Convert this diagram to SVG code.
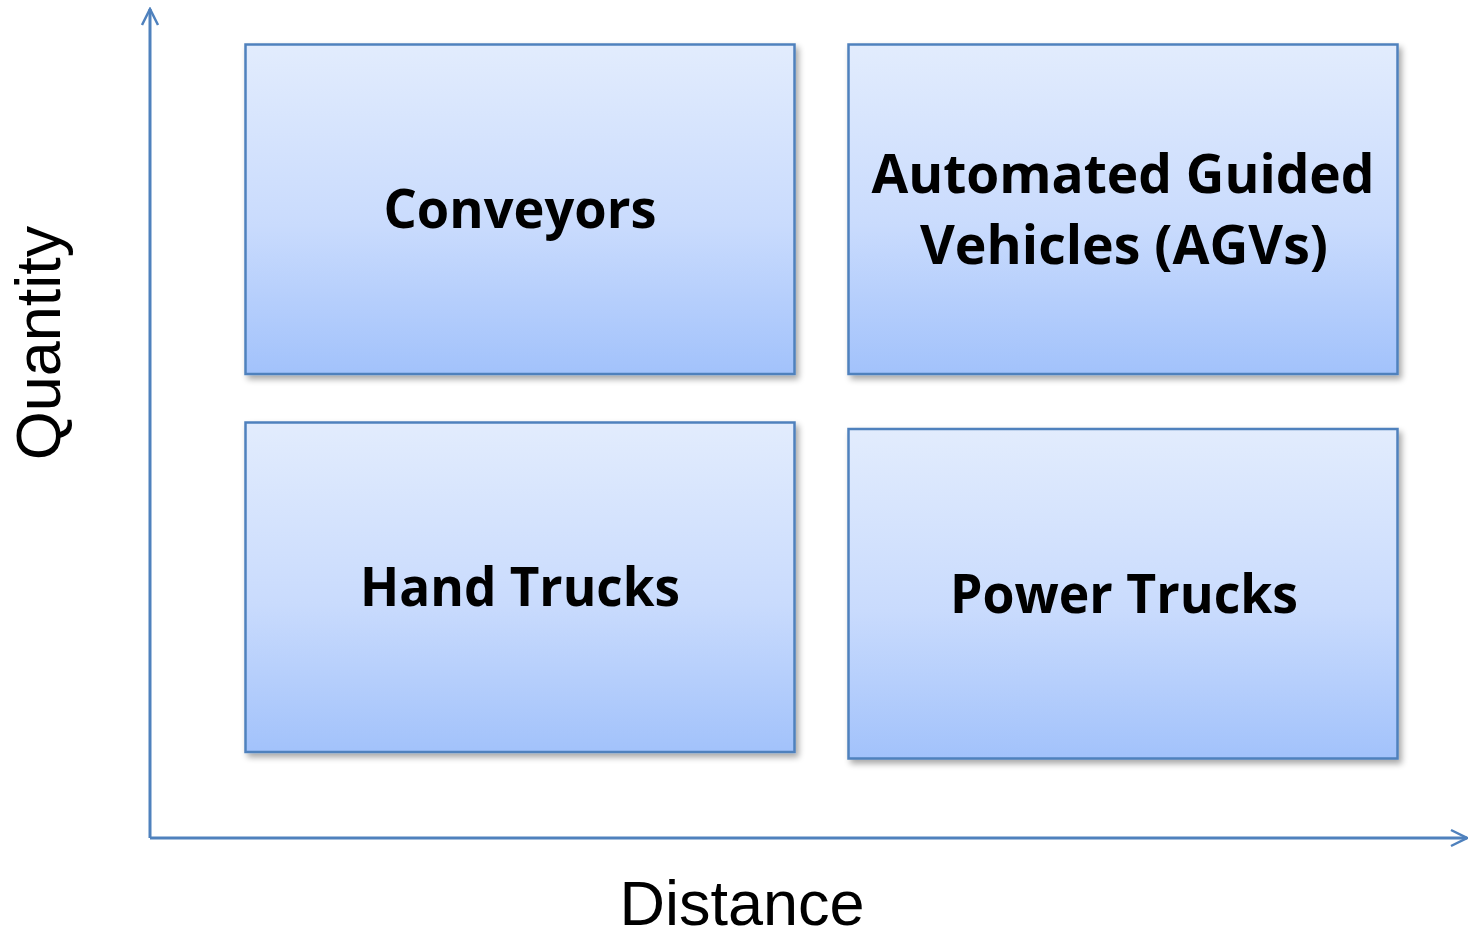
<svg xmlns="http://www.w3.org/2000/svg" width="1468" height="931" viewBox="0 0 1468 931">
<defs>
<linearGradient id="g" x1="0" y1="0" x2="0" y2="1">
<stop offset="0" stop-color="#e2ecfd"/>
<stop offset="0.55" stop-color="#c9dbfd"/>
<stop offset="1" stop-color="#a2c2fb"/>
</linearGradient>
<filter id="sh" x="-5%" y="-5%" width="112%" height="115%">
<feGaussianBlur in="SourceAlpha" stdDeviation="3"/>
<feOffset dx="3" dy="4" result="b"/>
<feComponentTransfer><feFuncA type="linear" slope="0.35"/></feComponentTransfer>
<feMerge><feMergeNode/><feMergeNode in="SourceGraphic"/></feMerge>
</filter>
<marker id="arr" viewBox="0 0 20 20" refX="18" refY="10" markerWidth="20" markerHeight="20" markerUnits="userSpaceOnUse" orient="auto">
<path d="M2,2 L18,10 L2,18" fill="none" stroke="#4f81bd" stroke-width="2.5"/>
</marker>
</defs>
<style>
.box{fill:url(#g);stroke:#4f81bd;stroke-width:2.5;filter:url(#sh)}
.lbl{font-family:"Open Sans","Noto Sans",sans-serif;font-weight:bold;font-size:54px;fill:#000;text-anchor:middle}
.ax{font-family:"Liberation Sans",Arial,sans-serif;font-size:63px;fill:#000;text-anchor:middle}
.axis{stroke:#4f81bd;stroke-width:3;fill:none}
</style>
<g id="connectors">
<line class="axis" x1="150" y1="838" x2="150" y2="9" marker-end="url(#arr)"/>
<line class="axis" x1="150" y1="838" x2="1467" y2="838" marker-end="url(#arr)"/>
</g>
<g id="conveyors">
<rect class="box" x="245.5" y="44.5" width="549" height="329.5"/>
<text class="lbl" x="520" y="228" textLength="273" lengthAdjust="spacingAndGlyphs">Conveyors</text>
</g>
<g id="agvs">
<rect class="box" x="848.5" y="44.5" width="549" height="329.5"/>
<text class="lbl" x="1123" y="193" textLength="503" lengthAdjust="spacingAndGlyphs">Automated Guided</text>
<text class="lbl" x="1124" y="264" textLength="408" lengthAdjust="spacingAndGlyphs">Vehicles (AGVs)</text>
</g>
<g id="hand-trucks">
<rect class="box" x="245.5" y="422.5" width="549" height="329.5"/>
<text class="lbl" x="520" y="606" textLength="320" lengthAdjust="spacingAndGlyphs">Hand Trucks</text>
</g>
<g id="power-trucks">
<rect class="box" x="848.5" y="429" width="549" height="329.5"/>
<text class="lbl" x="1124" y="613" textLength="348" lengthAdjust="spacingAndGlyphs">Power Trucks</text>
</g>
<g id="axis-labels">
<text class="ax" x="742" y="925">Distance</text>
<text class="ax" transform="translate(60,343) rotate(-90)" x="0" y="0">Quantity</text>
</g>
</svg>
